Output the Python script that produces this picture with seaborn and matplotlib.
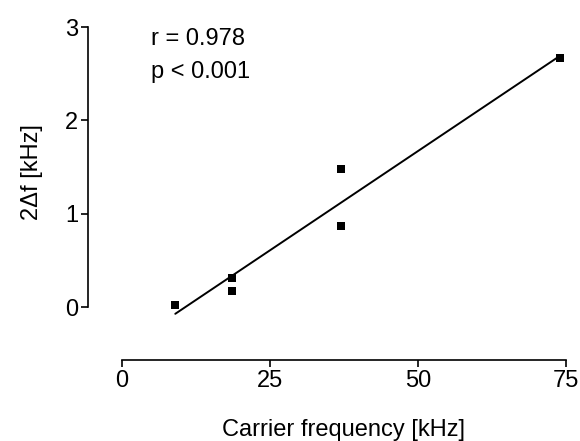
import numpy as np
import pandas as pd
import seaborn as sns
import matplotlib.pyplot as plt

# carrier frequency [kHz] vs. 2*delta f [kHz]
carrier_khz = [9.0, 18.5, 18.5, 37.0, 37.0, 74.0]
delta_khz = [0.02, 0.31, 0.17, 1.48, 0.87, 2.67]
x_ticks = [0, 25, 50, 75]
y_ticks = [0, 1, 2, 3]

df = pd.DataFrame({'carrier': carrier_khz, 'delta': delta_khz})

sns.set_style('ticks')
plt.rcParams['font.family'] = ['Liberation Sans', 'DejaVu Sans']
plt.rcParams['text.color'] = 'black'
plt.rcParams['axes.labelcolor'] = 'black'

fig = plt.figure(figsize=(5.8, 4.41), dpi=100)
ax = fig.add_axes([122 / 580, 1 - 316.4 / 441, (566 - 122) / 580, (316.4 - 27) / 441])

sns.regplot(data=df, x='carrier', y='delta', ci=None, ax=ax, color='black',
            marker='s', scatter_kws={'s': 36, 'linewidths': 0, 'alpha': 1},
            line_kws={'lw': 1.4})

ax.set_xlim(0, 75)
ax.set_ylim(-0.1, 3.0)
ax.set_xticks(x_ticks)
ax.set_yticks(y_ticks)

for s in ['top', 'right']:
    ax.spines[s].set_visible(False)
ax.spines['left'].set_position(('outward', 34 * 0.72))
ax.spines['bottom'].set_position(('outward', 43.6 * 0.72))
ax.spines['left'].set_bounds(0, 3)
ax.spines['bottom'].set_bounds(0, 75)
for s in ['left', 'bottom']:
    ax.spines[s].set_linewidth(1.2)
    ax.spines[s].set_color('black')

ax.tick_params(axis='both', length=5, width=1.2, colors='black', labelsize=17, pad=2)

ax.set_xlabel('Carrier frequency [kHz]', fontsize=17, labelpad=20)
ax.set_ylabel('2Δf [kHz]', fontsize=17, labelpad=16)

fig.text(151 / 580, 1 - 45 / 441, 'r = 0.978', fontsize=17, va='baseline')
fig.text(151 / 580, 1 - 78 / 441, 'p < 0.001', fontsize=17, va='baseline')

fig.savefig('out.png', dpi=100)
